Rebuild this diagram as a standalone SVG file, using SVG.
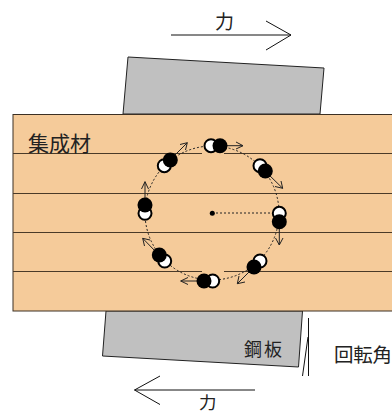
<svg xmlns="http://www.w3.org/2000/svg" width="392" height="414" viewBox="0 0 392 414">
<style>
text{font-family:"Noto Sans CJK JP","Noto Sans",sans-serif;fill:#222}
.steel{fill:#c0c0c0;stroke:#222;stroke-width:1}
.grain{stroke:#4a3a28;stroke-width:1;fill:none}
.force{stroke:#111;stroke-width:1;fill:none}
.w{fill:#fff;stroke:#000;stroke-width:2}
.b{fill:#000}
.mv{stroke:#222;stroke-width:1;fill:none}
.dot{stroke:#222;stroke-width:1;stroke-dasharray:2 2;fill:none}
</style>
<g id="steel-top"><polygon class="steel" points="128,57 324,68 320,114 123,114"/></g>
<g id="steel-bottom"><polygon class="steel" points="106,311 102.500,356 298.500,367 302.500,311"/><text x="244" y="356" font-size="18" letter-spacing="2">鋼板</text></g>
<g id="timber">
<rect x="13" y="114.500" width="380" height="196.500" fill="#f5cb9a" stroke="#3c3024" stroke-width="1"/>
<path class="grain" d="M13 153.500H202M224 153.500H392M13 193.500H392M13 232.500H392M13 271.500H202M224 271.500H392"/>
<text x="28" y="151" font-size="21">集成材</text>
</g>
<g id="connectors">
<circle class="dot" cx="212" cy="213" r="67"/>
<path class="dot" d="M212 213H279"/>
<path class="force" d="M171 35H291M266 21L291 35L266 50"/>
<path class="force" d="M255 390H134.500M160 376L134.500 390L160 404.500"/>
<path class="force" d="M308.500 318V376M308 337L302.500 376"/>
<path class="mv" d="M220 145.700H243M236 142L243 145.700L236 149"/>
<path class="mv" d="M265 171L282.700 188.300M275 186.500L282.700 188.300L281 181"/>
<path class="mv" d="M279.300 222V245M275.500 238L279.300 245L283 238"/>
<path class="mv" d="M254 267L237.300 283.700M239 276L237.300 283.700L245 282"/>
<path class="mv" d="M204 281H180.700M188 277.500L180.700 281L188 284.500"/>
<path class="mv" d="M159 255L142.700 238.300M144.500 246L142.700 238.300L150 240"/>
<path class="mv" d="M145 205V181.700M141.500 189L145 181.700L148.500 189"/>
<path class="mv" d="M170 160L187.300 142.700M180 144.500L187.300 142.700L185.500 150"/>
</g>
<g id="bolts">
<circle class="w" cx="211" cy="145.700" r="6.500"/><circle class="b" cx="220" cy="145.700" r="7.500"/>
<circle class="w" cx="260" cy="165.700" r="6.500"/><circle class="b" cx="265.300" cy="171" r="7.500"/>
<circle class="w" cx="279.300" cy="213.300" r="6.500"/><circle class="b" cx="279.300" cy="221.700" r="7.500"/>
<circle class="w" cx="260" cy="261" r="6.500"/><circle class="b" cx="254" cy="267" r="7.500"/>
<circle class="w" cx="212.700" cy="281" r="6.500"/><circle class="b" cx="204" cy="281" r="7.500"/>
<circle class="w" cx="164.700" cy="261" r="6.500"/><circle class="b" cx="159.300" cy="255" r="7.500"/>
<circle class="w" cx="145" cy="213.300" r="6.500"/><circle class="b" cx="145" cy="205" r="7.500"/>
<circle class="w" cx="164.300" cy="165.700" r="6.500"/><circle class="b" cx="170.300" cy="160" r="7.500"/>
<circle class="b" cx="212.300" cy="213.300" r="2.500"/>
</g>
<g id="labels">
<text x="198.500" y="29" font-size="19" dx="16.500">力</text>
<text x="199" y="408.500" font-size="17.500">力</text>
<text x="334" y="362" font-size="19.500" textLength="58" lengthAdjust="spacing">回転角</text>
</g>
</svg>
